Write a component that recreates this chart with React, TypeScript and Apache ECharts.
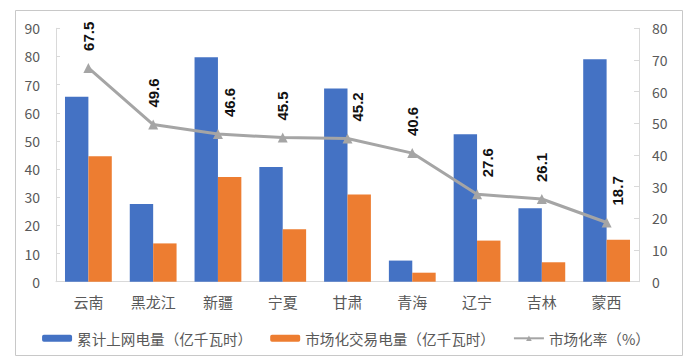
import React, { useEffect, useRef } from "react";
import * as echarts from "echarts";

const categories = ["云南", "黑龙江", "新疆", "宁夏", "甘肃", "青海", "辽宁", "吉林", "蒙西"];
const gridPower = [65.7, 27.6, 79.7, 40.7, 68.6, 7.5, 52.4, 26.1, 79.0];
const marketPower = [44.6, 13.6, 37.2, 18.6, 31.0, 3.2, 14.6, 6.9, 14.9];
const marketRate = [67.5, 49.6, 46.6, 45.5, 45.2, 40.6, 27.6, 26.1, 18.7];
const seriesNames = ["累计上网电量（亿千瓦时）", "市场化交易电量（亿千瓦时）", "市场化率（%）"];
const leftTicks = { min: 0, max: 90, interval: 10 };
const rightTicks = { min: 0, max: 80, interval: 10 };

// horizontal nudges of the rate labels (style only)
const labelShift = [0, 0, 12, 0, 10, 0, 10, 0, 11];

const CJK = '"Noto Sans CJK SC", "Liberation Sans", sans-serif';
const AXIS_TEXT = "#595959";
const AXIS_LINE = "#D9D9D9";

export default function App() {
  const ref = useRef<HTMLDivElement>(null);
  useEffect(() => {
    if (!ref.current) return;
    const chart = echarts.init(ref.current, null, { renderer: "svg" });
    chart.setOption({
      animation: false,
      backgroundColor: "#fff",
      graphic: [
        {
          type: "rect",
          shape: { x: 15.5, y: 10.5, width: 667, height: 345 },
          style: { fill: "none", stroke: "#C8C8C8", lineWidth: 1 },
          silent: true,
          z: -1,
        },
      ],
      grid: { left: 56, right: 53, top: 28.3, bottom: 82.3, containLabel: false },
      legend: {
        data: seriesNames,
        left: "center",
        top: 326,
        itemWidth: 30,
        itemHeight: 7,
        itemGap: 18,
        textStyle: { fontSize: 14.6, color: AXIS_TEXT, fontFamily: CJK },
      },
      xAxis: {
        type: "category",
        data: categories,
        axisLine: { show: true, lineStyle: { color: AXIS_LINE, width: 1 } },
        axisTick: { show: false },
        axisLabel: { fontSize: 15, color: AXIS_TEXT, fontFamily: CJK, margin: 12 },
      },
      yAxis: [
        {
          type: "value",
          ...leftTicks,
          position: "left",
          splitLine: { show: false },
          axisLine: { show: true, lineStyle: { color: AXIS_LINE } },
          axisTick: { show: true, inside: true, length: 4, lineStyle: { color: AXIS_LINE } },
          axisLabel: { fontSize: 14, color: AXIS_TEXT, fontFamily: CJK, margin: 16 },
        },
        {
          type: "value",
          ...rightTicks,
          position: "right",
          splitLine: { show: false },
          axisLine: { show: true, lineStyle: { color: AXIS_LINE } },
          axisTick: { show: true, inside: true, length: 5, lineStyle: { color: AXIS_LINE } },
          axisLabel: { fontSize: 14, color: AXIS_TEXT, fontFamily: CJK, margin: 13 },
        },
      ],
      series: [
        {
          name: seriesNames[0],
          type: "bar",
          data: gridPower,
          yAxisIndex: 0,
          barWidth: 23.4,
          barGap: "0%",
          itemStyle: { color: "#4472C4" },
        },
        {
          name: seriesNames[1],
          type: "bar",
          data: marketPower,
          yAxisIndex: 0,
          barWidth: 23.4,
          barGap: "0%",
          itemStyle: { color: "#ED7D31" },
        },
        {
          name: seriesNames[2],
          type: "line",
          yAxisIndex: 1,
          data: marketRate.map((v, i) => ({
            value: v,
            label: { offset: [0, labelShift[i]] },
          })),
          symbol: "triangle",
          symbolSize: 10,
          lineStyle: { color: "#A5A5A5", width: 3 },
          itemStyle: { color: "#A5A5A5" },
          z: 5,
          label: {
            show: true,
            position: "top",
            distance: 12,
            rotate: 90,
            align: "left",
            verticalAlign: "middle",
            fontSize: 15,
            fontWeight: "bold",
            color: "#111",
            fontFamily: '"Liberation Sans", Arial, sans-serif',
            formatter: (p: any) => Number(p.value).toFixed(1),
          },
        },
      ],
    });
    return () => chart.dispose();
  }, []);
  return (
    <div
      ref={ref}
      style={{ position: "fixed", left: 0, top: 0, width: 692, height: 364, background: "#fff" }}
    />
  );
}
